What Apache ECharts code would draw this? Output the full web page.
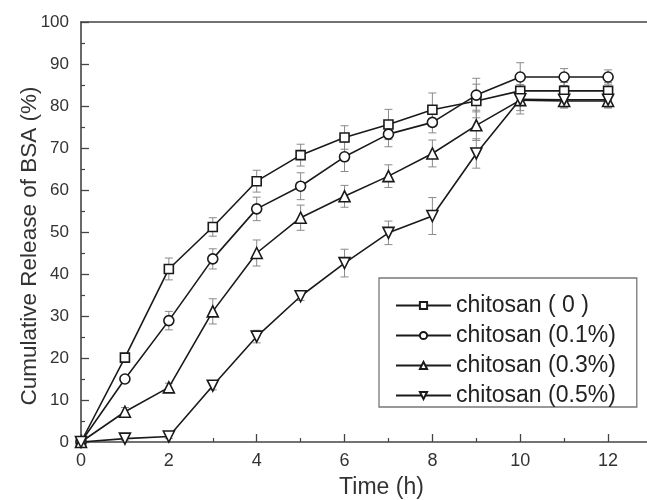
<!DOCTYPE html>
<html>
<head>
<meta charset="utf-8">
<script src="https://cdn.jsdelivr.net/npm/echarts@6/dist/echarts.min.js"></script>
<style>
html,body{margin:0;padding:0;background:#fff;}
#chart{width:647px;height:500px;}
</style>
</head>
<body>
<div id="chart"></div>
<script>
// ---- data ----
const time = [0, 1, 2, 3, 4, 5, 6, 7, 8, 9, 10, 11, 12];
const seriesNames = ['chitosan ( 0 )', 'chitosan (0.1%)', 'chitosan (0.3%)', 'chitosan (0.5%)'];
const chitosan0  = [0, 20.1, 41.2, 51.2, 62.1, 68.3, 72.5, 75.6, 79.1, 81.2, 83.6, 83.6, 83.6];
const chitosan01 = [0, 15.0, 28.9, 43.6, 55.5, 60.9, 67.9, 73.3, 76.1, 82.6, 86.9, 86.9, 86.9];
const chitosan03 = [0, 7.2, 13.0, 31.1, 45.0, 53.4, 58.5, 63.3, 68.7, 75.4, 81.4, 81.2, 81.2];
const chitosan05 = [0, 0.8, 1.3, 13.4, 25.1, 34.7, 42.6, 49.8, 53.8, 68.7, 81.6, 81.5, 81.5];
const err0  = [0, 1.0, 2.6, 2.2, 2.6, 2.6, 2.8, 3.6, 4.0, 4.0, 3.0, 2.0, 2.0];
const err01 = [0, 0.8, 2.2, 2.4, 2.8, 3.2, 3.5, 3.0, 2.5, 4.0, 3.4, 2.0, 1.7];
const err03 = [0, 1.0, 1.0, 3.0, 3.1, 3.0, 2.6, 2.7, 3.2, 3.6, 2.5, 1.5, 1.5];
const err05 = [0, 0.5, 0.5, 1.0, 1.5, 1.0, 3.3, 2.8, 4.4, 3.5, 3.5, 2.0, 2.0];
const xTicks = [0, 2, 4, 6, 8, 10, 12];
const yTicks = [0, 10, 20, 30, 40, 50, 60, 70, 80, 90, 100];

const values = [chitosan0, chitosan01, chitosan03, chitosan05];
const errors = [err0, err01, err03, err05];
const symbols = ['rect', 'circle', 'triangle', 'triangle'];
const rotates = [0, 0, 0, 180];
const sizes = [9, 10, 11, 11];

const FONT = '"Liberation Sans", Arial, sans-serif';
const INK = '#1a1a1a';

const chart = echarts.init(document.getElementById('chart'), null, {renderer: 'canvas'});

const series = [];
values.forEach((vals, k) => {
  series.push({
    type: 'custom',
    name: seriesNames[k] + ' err',
    xAxisIndex: 0, yAxisIndex: 0,
    z: 1,
    silent: true,
    data: time.map((t, i) => [t, vals[i] - errors[k][i], vals[i] + errors[k][i]]),
    renderItem: function (params, api) {
      const lo = api.coord([api.value(0), api.value(1)]);
      const hi = api.coord([api.value(0), api.value(2)]);
      const w = 4;
      const st = {stroke: '#8a8a8a', lineWidth: 1};
      return {
        type: 'group',
        children: [
          {type: 'line', shape: {x1: lo[0], y1: lo[1], x2: hi[0], y2: hi[1]}, style: st},
          {type: 'line', shape: {x1: lo[0] - w, y1: lo[1], x2: lo[0] + w, y2: lo[1]}, style: st},
          {type: 'line', shape: {x1: hi[0] - w, y1: hi[1], x2: hi[0] + w, y2: hi[1]}, style: st}
        ]
      };
    }
  });
});
values.forEach((vals, k) => {
  series.push({
    type: 'line',
    name: seriesNames[k],
    xAxisIndex: 0, yAxisIndex: 0,
    z: 3,
    smooth: false,
    data: time.map((t, i) => [t, vals[i]]),
    symbol: symbols[k],
    symbolRotate: rotates[k],
    symbolSize: sizes[k],
    showAllSymbol: true,
    lineStyle: {color: INK, width: 1.6},
    itemStyle: {color: '#fff', borderColor: INK, borderWidth: 1.6},
    emphasis: {disabled: true}
  });
});

const option = {
  animation: false,
  backgroundColor: '#fff',
  grid: {left: 81, top: 22, right: -5, bottom: 58, containLabel: false, outerBoundsMode: 'none'},
  legend: {
    data: seriesNames,
    orient: 'vertical',
    left: 379, top: 278,
    padding: [16, 21, 0, 16],
    itemGap: 7,
    itemWidth: 55,
    itemHeight: 9,
    borderColor: '#777',
    borderWidth: 1.3,
    backgroundColor: '#fff',
    textStyle: {fontFamily: FONT, fontSize: 23, color: '#222'},
    selectedMode: false
  },
  xAxis: [{
    type: 'value', min: 0, max: 13, interval: 2,
    name: 'Time (h)', nameLocation: 'middle', nameGap: 34,
    nameTextStyle: {fontFamily: FONT, fontSize: 23, color: '#333', padding: [0, 0, 0, 30]},
    axisLine: {show: true, lineStyle: {color: '#444', width: 1.6}},
    axisTick: {show: true, inside: true, length: 8, lineStyle: {color: '#444', width: 1.3}},
    minorTick: {show: true, splitNumber: 2, length: 4, lineStyle: {color: '#444', width: 1.2}},
    axisLabel: {fontFamily: FONT, fontSize: 18, color: '#333', margin: 10,
      formatter: v => (xTicks.indexOf(v) >= 0 ? String(v) : '')},
    splitLine: {show: false}
  }, {
    type: 'value', min: 0, max: 13, position: 'top',
    axisLine: {show: true, onZero: false, lineStyle: {color: '#444', width: 1.6}},
    axisTick: {show: false}, axisLabel: {show: false}, splitLine: {show: false}
  }],
  yAxis: [{
    type: 'value', min: 0, max: 100, interval: 10,
    name: 'Cumulative Release of BSA (%)', nameLocation: 'middle', nameGap: 40,
    nameMoveOverlap: false,
    nameTextStyle: {fontFamily: FONT, fontSize: 22.5, color: '#333', padding: [0, 0, 0, -28]},
    axisLine: {show: true, onZero: false, lineStyle: {color: '#444', width: 1.6}},
    axisTick: {show: true, inside: true, length: 8, lineStyle: {color: '#444', width: 1.3}},
    minorTick: {show: true, splitNumber: 2, length: 4, lineStyle: {color: '#444', width: 1.2}},
    axisLabel: {fontFamily: FONT, fontSize: 17, color: '#333', margin: 12,
      formatter: v => (yTicks.indexOf(v) >= 0 ? String(v) : '')},
    splitLine: {show: false}
  }],
  series: series
};
chart.setOption(option);
</script>
</body>
</html>
